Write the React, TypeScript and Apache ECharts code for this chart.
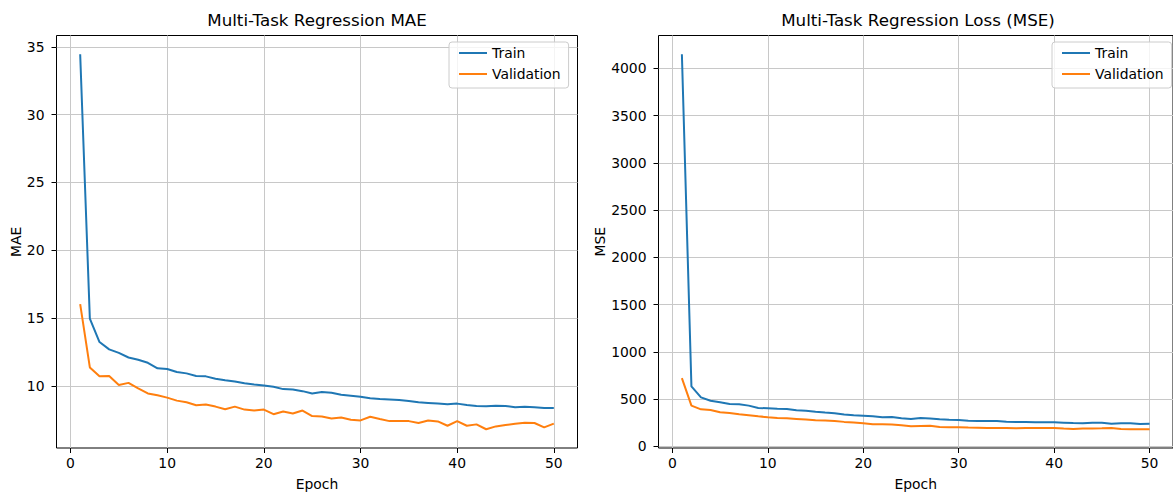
import React, { useEffect, useRef } from "react";
import * as echarts from "echarts";

const epochs = [
  1, 2, 3, 4, 5, 6, 7, 8, 9, 10, 11, 12, 13, 14, 15, 16, 17, 18, 19, 20, 21, 22, 23, 24, 25,
  26, 27, 28, 29, 30, 31, 32, 33, 34, 35, 36, 37, 38, 39, 40, 41, 42, 43, 44, 45, 46, 47, 48, 49, 50,
];

const maeTrain = [
  34.45, 14.95, 13.23, 12.69, 12.43, 12.09, 11.92, 11.7, 11.29, 11.24, 11.02, 10.92, 10.73, 10.7,
  10.53, 10.41, 10.32, 10.19, 10.1, 10.02, 9.93, 9.76, 9.73, 9.61, 9.44, 9.55, 9.49, 9.34, 9.27,
  9.2, 9.08, 9.03, 9.0, 8.96, 8.88, 8.79, 8.74, 8.69, 8.64, 8.69, 8.59, 8.52, 8.5, 8.54, 8.52, 8.42,
  8.45, 8.42, 8.37, 8.37,
];

const maeVal = [
  16.02, 11.36, 10.7, 10.73, 10.07, 10.22, 9.81, 9.44, 9.3, 9.13, 8.91, 8.79, 8.57, 8.62, 8.47,
  8.28, 8.47, 8.25, 8.18, 8.25, 7.91, 8.11, 7.96, 8.18, 7.77, 7.74, 7.6, 7.67, 7.5, 7.45, 7.72, 7.55,
  7.4, 7.4, 7.4, 7.26, 7.45, 7.38, 7.06, 7.4, 7.06, 7.16, 6.8, 7.01, 7.11, 7.21, 7.28, 7.26, 6.94,
  7.21,
];

const mseTrain = [
  4150, 635, 519, 484, 467, 449, 446, 432, 407, 404, 400, 397, 382, 379, 368, 358, 351, 337, 330,
  326, 319, 309, 312, 298, 291, 300, 296, 287, 283, 280, 273, 269, 269, 269, 262, 259, 259, 255, 255,
  255, 252, 248, 245, 252, 252, 241, 245, 245, 238, 241,
];

const mseVal = [
  723, 432, 393, 386, 361, 354, 340, 330, 319, 309, 302, 298, 291, 284, 277, 274, 270, 260, 253,
  246, 235, 235, 232, 225, 214, 217, 220, 206, 203, 203, 200, 199, 196, 196, 196, 192, 196, 196, 196,
  196, 189, 185, 189, 189, 192, 196, 185, 182, 182, 182,
];

const xTicks = [0, 10, 20, 30, 40, 50];
const maeTicks = [10, 15, 20, 25, 30, 35];
const mseTicks = [0, 500, 1000, 1500, 2000, 2500, 3000, 3500, 4000];

const titles = ["Multi-Task Regression MAE", "Multi-Task Regression Loss (MSE)"];
const yNames = ["MAE", "MSE"];
const seriesNames = ["Train", "Validation"];
const colors = ["#1f77b4", "#ff7f0e"];

const FONT = '"DejaVu Sans", "Liberation Sans", sans-serif';

function pad(vals: number[]) {
  const lo = Math.min(...vals);
  const hi = Math.max(...vals);
  const m = (hi - lo) * 0.05;
  return [lo - m, hi + m];
}

const plain = (v: number) => String(v);

export default function App() {
  const ref = useRef<HTMLDivElement>(null);

  useEffect(() => {
    if (!ref.current) return;
    const chart = echarts.init(ref.current, undefined, { renderer: "svg" });

    const xr = pad(epochs);
    const maeR = pad([...maeTrain, ...maeVal]);
    const mseR = pad([...mseTrain, ...mseVal]);

    const gridLefts = [56.5, 658.5];
    const centers = [317, 918];

    const xAxisBase = (gi: number) => ({
      type: "value",
      gridIndex: gi,
      min: xr[0],
      max: xr[1],
      name: "Epoch",
      nameLocation: "middle",
      nameGap: 29,
      nameTextStyle: { fontFamily: FONT, fontSize: 13.9, color: "#000" },
      axisLine: { show: false, onZero: false },
      axisTick: {
        show: true,
        length: 5,
        customValues: xTicks,
        lineStyle: { color: "#000", width: 1 },
      },
      axisLabel: {
        customValues: xTicks,
        formatter: plain,
        margin: 8,
        fontFamily: FONT,
        fontSize: 13.9,
        color: "#000",
      },
      splitLine: { show: true, lineStyle: { color: "#c8c8c8", width: 1 } },
    });

    const yAxisBase = (gi: number, r: number[], ticks: number[], name: string, gap: number) => ({
      type: "value",
      gridIndex: gi,
      min: r[0],
      max: r[1],
      name,
      nameLocation: "middle",
      nameGap: gap,
      nameTextStyle: { fontFamily: FONT, fontSize: 13.9, color: "#000" },
      axisLine: { show: false, onZero: false },
      axisTick: {
        show: true,
        length: 5,
        customValues: ticks,
        lineStyle: { color: "#000", width: 1 },
      },
      axisLabel: {
        customValues: ticks,
        formatter: plain,
        margin: 12,
        fontFamily: FONT,
        fontSize: 13.9,
        color: "#000",
      },
      splitLine: { show: true, lineStyle: { color: "#c8c8c8", width: 1 } },
    });

    const legendBase = (left: number) => ({
      left,
      top: 42,
      orient: "vertical",
      data: seriesNames,
      icon: "rect",
      itemWidth: 28,
      itemHeight: 2,
      itemGap: 5,
      padding: [3, 8, 6, 10],
      backgroundColor: "rgba(255,255,255,0.8)",
      borderColor: "#cccccc",
      borderWidth: 1,
      borderRadius: 3,
      selectedMode: false,
      textStyle: { fontFamily: FONT, fontSize: 13.9, color: "#000", lineHeight: 16 },
    });

    const mk = (name: string, gi: number, vals: number[], color: string) => ({
      type: "line",
      name,
      xAxisIndex: gi,
      yAxisIndex: gi,
      data: epochs.map((e, i) => [e, vals[i]]),
      showSymbol: false,
      symbol: "none",
      color,
      lineStyle: { width: 2, color },
      emphasis: { disabled: true },
    });

    const gridBase = (left: number) => ({
      left,
      top: 35.5,
      width: 521,
      height: 417,
      show: true,
      borderColor: "#000",
      borderWidth: 1,
      backgroundColor: "transparent",
    });

    chart.setOption({
      animation: false,
      backgroundColor: "#ffffff",
      textStyle: { fontFamily: FONT },
      grid: [gridBase(gridLefts[0]), gridBase(gridLefts[1])],
      xAxis: [xAxisBase(0), xAxisBase(1)],
      yAxis: [
        yAxisBase(0, maeR, maeTicks, yNames[0], 34),
        yAxisBase(1, mseR, mseTicks, yNames[1], 51),
      ],
      legend: [legendBase(449), legendBase(1052)],
      graphic: titles.map((t, i) => ({
        type: "text",
        x: centers[i],
        y: 20,
        style: {
          text: t,
          font: `16.7px ${FONT}`,
          fill: "#000",
          align: "center",
          verticalAlign: "middle",
        },
      })),
      series: [
        mk(seriesNames[0], 0, maeTrain, colors[0]),
        mk(seriesNames[1], 0, maeVal, colors[1]),
        mk(seriesNames[0], 1, mseTrain, colors[0]),
        mk(seriesNames[1], 1, mseVal, colors[1]),
      ],
    });

    return () => chart.dispose();
  }, []);

  return (
    <div
      ref={ref}
      style={{ position: "absolute", left: 0, top: 0, width: 1173, height: 496, background: "#fff" }}
    />
  );
}
